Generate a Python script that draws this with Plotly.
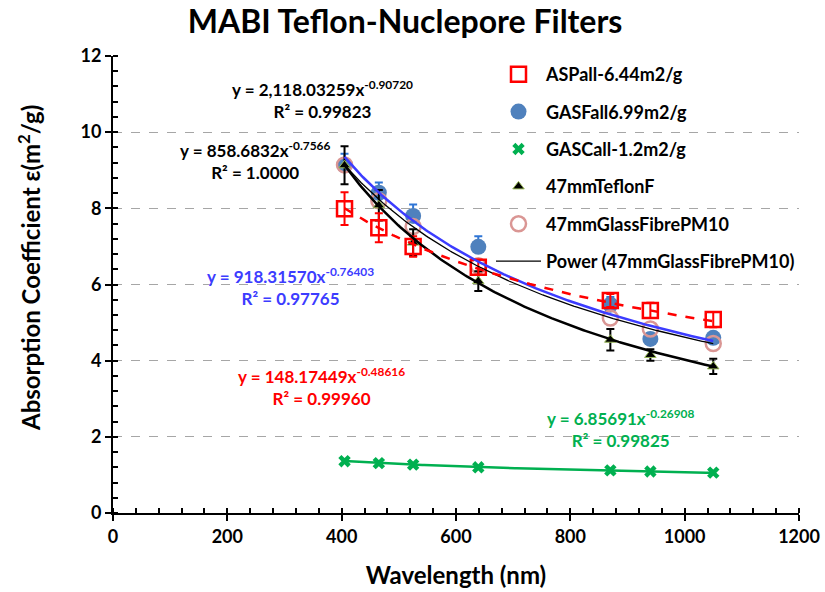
import numpy as np
import plotly.graph_objects as go

wavelength = [405, 465, 525, 639, 870, 940, 1050]
asp = [7.99, 7.49, 7.0, 6.45, 5.58, 5.32, 5.08]
asp_err = [0.43, 0.38, 0.27, 0.2, 0.17, 0.2, 0.2]
gasf = [9.13, 8.41, 7.8, 6.99, 5.47, 4.57, 4.6]
gasf_err = [0.3, 0.27, 0.3, 0.28, 0.2, 0.15, 0.15]
gasc = [1.36, 1.31, 1.27, 1.20, 1.12, 1.09, 1.06]
teflon = [9.13, 8.08, 7.1, 6.09, 4.55, 4.15, 3.85]
teflon_err = [0.5, 0.4, 0.35, 0.26, 0.28, 0.15, 0.2]
glass = [9.14, 8.2, 7.52, 6.49, 5.12, 4.83, 4.45]

# power-law trendline coefficients shown on the chart: y = a * x^b
fit_asp = (148.17449, -0.48616)
fit_gasf = (918.31570, -0.76403)
fit_gasc = (6.85691, -0.26908)
fit_teflon = (2118.03259, -0.90720)
fit_glass = (858.6832, -0.7566)

FONT = "Lato"
BLUE = "#4F81BD"
RED = "#FF0000"
GREEN = "#00B050"

xs = np.linspace(min(wavelength), max(wavelength), 200)
def curve(f):
    return f[0] * xs ** f[1]

fig = go.Figure()

fig.add_trace(go.Scatter(x=wavelength, y=gasf, mode="markers", name="GASFall6.99m2/g",
    legendgroup="b", legendrank=2,
    marker=dict(symbol="circle", size=16, color=BLUE),
    error_y=dict(type="data", array=gasf_err, arrayminus=[0]*7, color="#2E75D6", thickness=2, width=4)))
fig.add_trace(go.Scatter(x=wavelength, y=glass, mode="markers", name="47mmGlassFibrePM10",
    legendgroup="e", legendrank=5,
    marker=dict(symbol="circle-open", size=15, color="#DA9694", line=dict(width=2.5))))
fig.add_trace(go.Scatter(x=wavelength, y=teflon, mode="markers", name="47mmTeflonF",
    legendgroup="d", legendrank=4,
    marker=dict(symbol="triangle-up", size=10, color="black", line=dict(color="#9BBB59", width=1)),
    error_y=dict(type="data", array=teflon_err, color="black", thickness=2, width=4)))
fig.add_trace(go.Scatter(x=wavelength, y=asp, mode="markers", name="ASPall-6.44m2/g",
    legendgroup="a", legendrank=1,
    marker=dict(symbol="square-open", size=15, color=RED, line=dict(width=2.5)),
    error_y=dict(type="data", array=asp_err, color=RED, thickness=2, width=4)))
fig.add_trace(go.Scatter(x=wavelength, y=gasc, mode="markers", name="GASCall-1.2m2/g",
    legendgroup="c", legendrank=3,
    marker=dict(symbol="x", size=11, color=GREEN)))

# trendlines
fig.add_trace(go.Scatter(x=xs, y=curve(fit_teflon), mode="lines", showlegend=False,
    line=dict(color="black", width=2.5)))
fig.add_trace(go.Scatter(x=xs, y=curve(fit_glass), mode="lines", name="Power (47mmGlassFibrePM10)",
    legendgroup="f", legendrank=6, line=dict(color="black", width=1.3)))
fig.add_trace(go.Scatter(x=xs, y=curve(fit_gasf), mode="lines", showlegend=False,
    line=dict(color="#3C3CFF", width=2.5)))
fig.add_trace(go.Scatter(x=xs, y=curve(fit_asp), mode="lines", showlegend=False,
    line=dict(color=RED, width=2.5, dash="dash")))
fig.add_trace(go.Scatter(x=xs, y=curve(fit_gasc), mode="lines", showlegend=False,
    line=dict(color=GREEN, width=2.5)))

ann_font = dict(family=FONT, size=17, weight=700)
annots = [
    (366, 10.85, "y = 2,118.03259x<sup>-0.90720</sup><br>R² = 0.99823", "black"),
    (248, 9.25, "y = 858.6832x<sup>-0.7566</sup><br>R² = 1.0000", "black"),
    (310, 5.96, "y = 918.31570x<sup>-0.76403</sup><br>R² = 0.97765", "#3C3CFF"),
    (364, 3.31, "y = 148.17449x<sup>-0.48616</sup><br>R² = 0.99960", RED),
    (887, 2.22, "y = 6.85691x<sup>-0.26908</sup><br>R² = 0.99825", GREEN),
]
for x, y, t, c in annots:
    fig.add_annotation(x=x, y=y, xref="x", yref="y", text=t, showarrow=False,
                       align="center", font=dict(ann_font, color=c))

L, R, T, B = 113, 26, 56, 79
W, H = 825, 592

# y-axis title (placed in pixel terms, converted to paper coordinates)
fig.add_annotation(x=(29 - L) / (W - L - R), y=(H - B - 268) / (H - T - B), xref="paper", yref="paper",
                   text="Absorption Coefficient ε(m<sup>2</sup>/g)",
                   showarrow=False, textangle=-90, xanchor="center", yanchor="middle",
                   font=dict(family=FONT, size=24, weight=700, color="black"))

fig.update_layout(
    width=W, height=H,
    margin=dict(l=L, r=R, t=T, b=B),
    paper_bgcolor="white", plot_bgcolor="white",
    font=dict(family=FONT, color="black"),
    title=dict(text="MABI Teflon-Nuclepore Filters", x=0.491, xanchor="center", y=0.963, yanchor="middle",
               font=dict(family=FONT, size=32, weight=700, color="black")),
    legend=dict(x=(491 - L) / (W - L - R), y=1.0, xanchor="left", yanchor="top", bgcolor="rgba(0,0,0,0)",
                tracegroupgap=11, itemwidth=45, font=dict(family=FONT, size=18, weight=700)),
    showlegend=True,
)
fig.update_xaxes(range=[0, 1200], dtick=200, showline=True, linecolor="black", linewidth=2,
                 showgrid=False, zeroline=False, ticks="outside", ticklen=6, tickwidth=2,
                 tickcolor="black", automargin=False,
                 minor=dict(dtick=40, ticks="inside", ticklen=5, tickwidth=1.5, tickcolor="black", showgrid=False),
                 tickfont=dict(family=FONT, size=18, weight=700),
                 title=dict(text="Wavelength (nm)", font=dict(family=FONT, size=24, weight=700), standoff=22))
fig.update_yaxes(range=[0, 12], dtick=2, showline=True, linecolor="black", linewidth=2,
                 showgrid=True, gridcolor="#A6A6A6", griddash="dash", gridwidth=1, zeroline=False,
                 ticks="outside", ticklen=6, tickwidth=2, tickcolor="black", automargin=False,
                 minor=dict(dtick=0.4, ticks="inside", ticklen=5, tickwidth=1.5, tickcolor="black", showgrid=False),
                 tickfont=dict(family=FONT, size=18, weight=700))

fig.write_html("out.html")
